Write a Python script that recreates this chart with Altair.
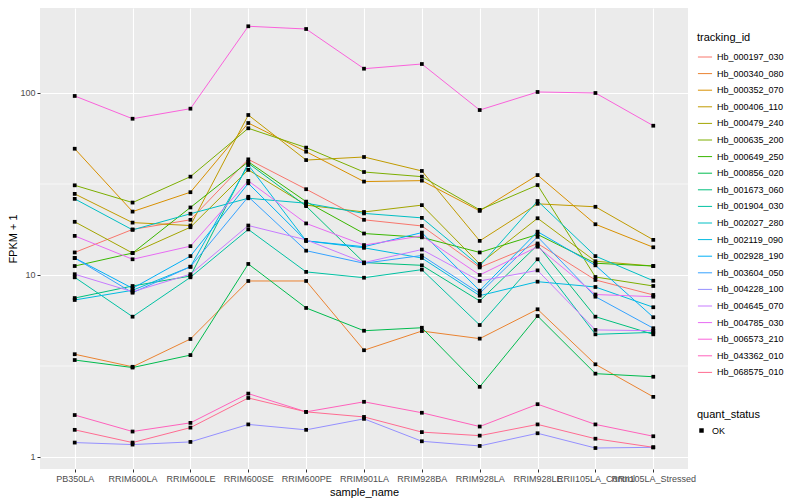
import altair as alt
import pandas as pd

samples = ["PB350LA", "RRIM600LA", "RRIM600LE", "RRIM600SE", "RRIM600PE", "RRIM901LA",
           "RRIM928BA", "RRIM928LA", "RRIM928LE", "RRII105LA_Control", "RRII105LA_Stressed"]

tracking_ids = ["Hb_000197_030", "Hb_000340_080", "Hb_000352_070", "Hb_000406_110", "Hb_000479_240",
                "Hb_000635_200", "Hb_000649_250", "Hb_000856_020", "Hb_001673_060", "Hb_001904_030",
                "Hb_002027_280", "Hb_002119_090", "Hb_002928_190", "Hb_003604_050", "Hb_004228_100",
                "Hb_004645_070", "Hb_004785_030", "Hb_006573_210", "Hb_043362_010", "Hb_068575_010"]

hb_000197_030 = [13.3, 17.8, 20.1, 43.2, 29.6, 20.1, 18.6, 11.0, 14.9, 9.39, 7.77]
hb_000340_080 = [3.67, 3.13, 4.45, 9.27, 9.27, 3.86, 4.92, 4.47, 6.48, 3.23, 2.14]
hb_000352_070 = [49.4, 22.3, 28.5, 68.4, 47.6, 32.6, 33.0, 22.5, 35.4, 19.0, 14.2]
hb_000406_110 = [27.9, 19.4, 18.7, 75.7, 42.8, 44.5, 37.3, 15.4, 24.6, 23.7, 15.6]
hb_000479_240 = [19.6, 13.2, 18.3, 37.8, 24.2, 22.2, 24.2, 11.5, 20.5, 11.9, 11.2]
hb_000635_200 = [31.1, 25.0, 34.7, 64.0, 50.1, 36.8, 34.7, 22.8, 31.2, 9.75, 8.70]
hb_000649_250 = [11.2, 13.2, 23.5, 41.9, 25.3, 16.9, 16.1, 13.3, 16.7, 11.6, 11.2]
hb_000856_020 = [3.41, 3.10, 3.63, 11.5, 6.59, 4.94, 5.13, 2.43, 5.95, 2.87, 2.76]
hb_001673_060 = [7.47, 8.70, 9.87, 41.1, 23.9, 11.7, 11.3, 7.20, 14.6, 5.90, 4.72]
hb_001904_030 = [9.71, 5.90, 9.71, 17.8, 10.4, 9.66, 10.7, 5.31, 12.2, 4.72, 4.84]
hb_002027_280 = [26.2, 17.7, 21.7, 26.4, 24.8, 21.8, 20.6, 11.2, 25.5, 12.7, 9.30]
hb_002119_090 = [7.29, 8.24, 11.1, 40.2, 15.4, 14.1, 12.4, 7.70, 9.19, 8.59, 6.65]
hb_002928_190 = [12.4, 8.45, 12.7, 31.9, 15.4, 14.3, 17.1, 8.20, 17.3, 11.3, 5.86]
hb_003604_050 = [12.4, 7.99, 11.1, 26.9, 13.6, 11.6, 12.8, 7.93, 16.2, 7.60, 5.10]
hb_004228_100 = [1.20, 1.17, 1.21, 1.51, 1.41, 1.62, 1.22, 1.15, 1.35, 1.12, 1.13]
hb_004645_070 = [10.1, 8.09, 10.1, 18.7, 15.6, 11.7, 13.8, 9.27, 10.6, 4.99, 4.94]
hb_004785_030 = [16.4, 12.2, 14.4, 32.9, 19.2, 14.6, 16.4, 10.0, 14.3, 7.81, 7.60]
hb_006573_210 = [96.3, 72.2, 82.0, 232.6, 224.7, 136.0, 144.3, 80.6, 101.3, 100.0, 66.1]
hb_043362_010 = [1.70, 1.38, 1.54, 2.23, 1.77, 2.01, 1.75, 1.47, 1.95, 1.51, 1.30]
hb_068575_010 = [1.41, 1.20, 1.45, 2.11, 1.77, 1.66, 1.37, 1.31, 1.51, 1.26, 1.13]

series = [hb_000197_030, hb_000340_080, hb_000352_070, hb_000406_110, hb_000479_240,
          hb_000635_200, hb_000649_250, hb_000856_020, hb_001673_060, hb_001904_030,
          hb_002027_280, hb_002119_090, hb_002928_190, hb_003604_050, hb_004228_100,
          hb_004645_070, hb_004785_030, hb_006573_210, hb_043362_010, hb_068575_010]

palette = ["#F8766D", "#EA8331", "#D89000", "#C09B00", "#A3A500", "#7CAE00", "#39B600",
           "#00BB4E", "#00BF7D", "#00C1A3", "#00BFC4", "#00BAE0", "#00B0F6", "#35A2FF",
           "#9590FF", "#C77CFF", "#E76BF3", "#FA62DB", "#FF62BC", "#FF6C91"]

y_breaks = [1, 10, 100]
minor_breaks = [3.1623, 31.623]

rows = []
for tid, vals in zip(tracking_ids, series):
    for s, v in zip(samples, vals):
        rows.append({"tracking_id": tid, "sample_name": s, "fpkm1": v, "quant_status": "OK"})
df = pd.DataFrame(rows)
minor_df = pd.DataFrame({"fpkm1": minor_breaks})

FONT = "Liberation Sans"
yscale = alt.Scale(type="log", domain=[0.859, 293.1], nice=False)
xscale = alt.Scale(type="point", padding=0.6, domain=samples)

yaxis = alt.Axis(title="FPKM + 1", values=y_breaks, format="d", grid=True,
                 gridColor="white", gridWidth=1.1, domain=False, tickColor="#333333",
                 tickSize=3, labelColor="#4D4D4D", labelFontSize=9, labelFont=FONT,
                 titleFont=FONT, titleFontSize=11, titleFontWeight="normal",
                 titleColor="black", labelPadding=2, titlePadding=1)
xaxis = alt.Axis(title="sample_name", labelAngle=0, grid=True, gridColor="white",
                 gridWidth=1.1, domain=False, tickColor="#333333", tickSize=3,
                 labelColor="#4D4D4D", labelFontSize=9, labelFont=FONT,
                 titleFont=FONT, titleFontSize=11, titleFontWeight="normal",
                 titleColor="black", labelPadding=2, titlePadding=3)

minor = alt.Chart(minor_df).mark_rule(color="white", strokeWidth=0.6).encode(
    y=alt.Y("fpkm1:Q", scale=yscale, axis=yaxis)
)

lines = alt.Chart(df).mark_line(strokeWidth=1).encode(
    x=alt.X("sample_name:N", scale=xscale, sort=samples, axis=xaxis),
    y=alt.Y("fpkm1:Q", scale=yscale, axis=yaxis),
    color=alt.Color("tracking_id:N", scale=alt.Scale(domain=tracking_ids, range=palette),
                    legend=alt.Legend(title="tracking_id", orient="none", legendX=657, legendY=24,
                                      symbolType="stroke", symbolStrokeWidth=1, symbolSize=200,
                                      rowPadding=3.6, labelFontSize=9, labelFont=FONT,
                                      titleFont=FONT, titleFontSize=11, titleFontWeight="normal",
                                      titleColor="black", labelColor="black", titlePadding=6,
                                      labelOffset=4)),
    detail="tracking_id:N",
)

points = alt.Chart(df).mark_point(shape="square", filled=True, size=14, color="black", opacity=1).encode(
    x=alt.X("sample_name:N", scale=xscale, sort=samples, axis=xaxis),
    y=alt.Y("fpkm1:Q", scale=yscale, axis=yaxis),
    shape=alt.Shape("quant_status:N", scale=alt.Scale(range=["square"]),
                    legend=alt.Legend(title="quant_status", orient="none", legendX=657, legendY=401,
                                      symbolSize=20, symbolFillColor="black", symbolStrokeColor="black",
                                      labelFontSize=9, labelFont=FONT, titleFont=FONT,
                                      titleFontSize=11, titleFontWeight="normal", titleColor="black",
                                      labelColor="black", titlePadding=6, labelOffset=6)),
)

chart = alt.layer(minor, lines, points).properties(
    width=648, height=461,
    padding={"left": 32, "top": 0, "right": 104, "bottom": 31},
    autosize=alt.AutoSizeParams(type="none"),
).configure_view(fill="#EBEBEB", strokeWidth=0)

chart.save("out.html", embed_options={"renderer": "svg", "actions": False})
